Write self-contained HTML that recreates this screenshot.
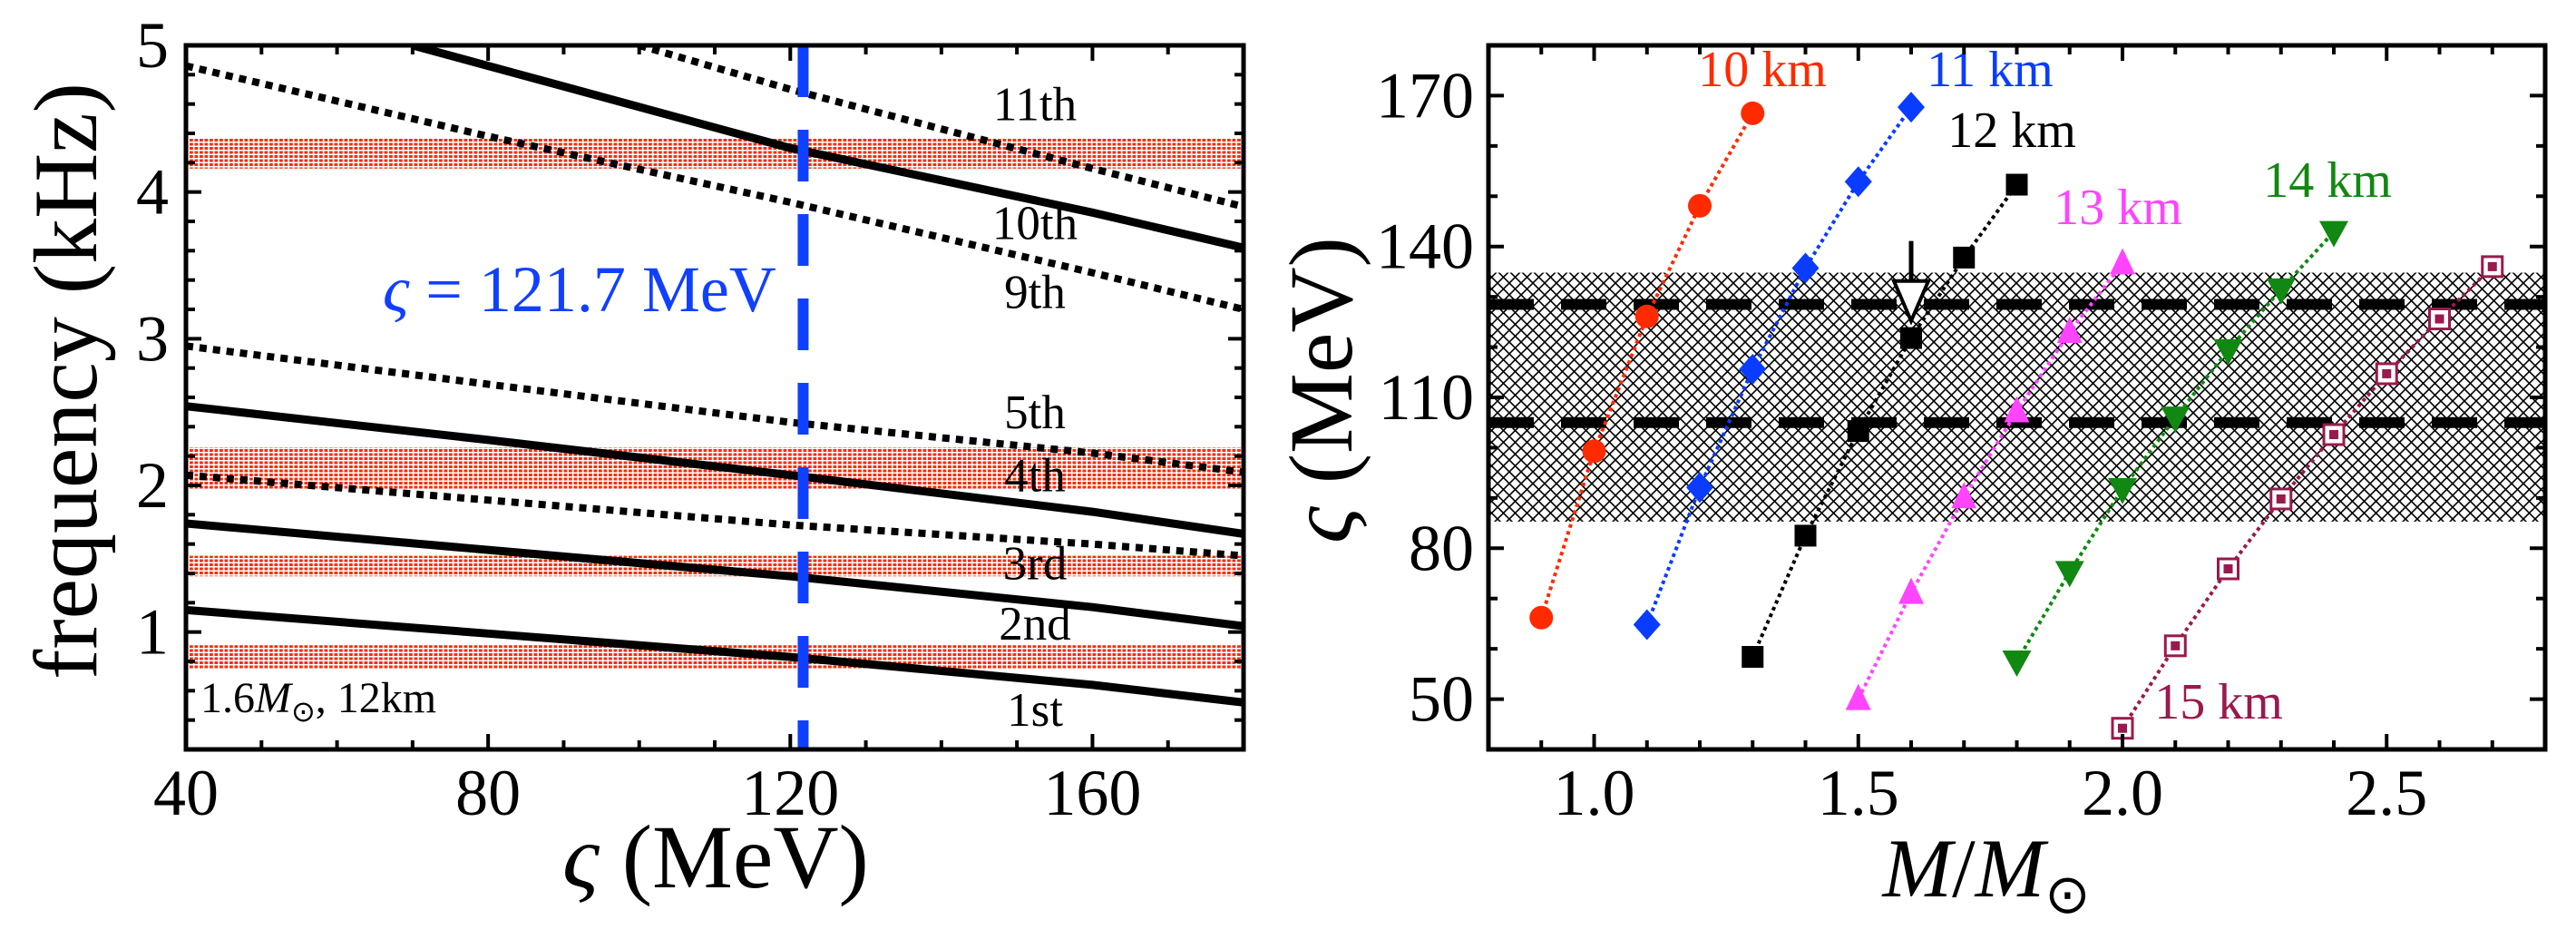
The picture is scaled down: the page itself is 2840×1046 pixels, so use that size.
<!DOCTYPE html>
<html><head><meta charset="utf-8"><style>
html,body{margin:0;padding:0;background:#fff}
svg{display:block}
text{font-family:"Liberation Serif",serif}
</style></head><body>
<svg id="fig" width="2840" height="1046" viewBox="0 0 2840 1046" xmlns="http://www.w3.org/2000/svg">
<defs>
<pattern id="reddots" width="5.5" height="4.5" patternUnits="userSpaceOnUse"><rect x="0" y="0" width="3.8" height="3" fill="#ff2a00"/></pattern>
<pattern id="hatch" width="13" height="13" patternUnits="userSpaceOnUse"><path d="M0,0 L13,13 M13,0 L0,13" stroke="#000" stroke-width="1.6"/></pattern>
</defs>
<g id="left"></g>
<g id="right"></g>
</svg>
<script>
// ---------- Left panel data ----------
const zetaGrid = [40, 80, 120, 160, 180];
const mode1 = [1.15, 0.99, 0.83, 0.64, 0.52];
const mode2 = [1.74, 1.56, 1.38, 1.17, 1.04];
const mode3 = [2.07, 1.90, 1.73, 1.60, 1.52];
const mode4 = [2.54, 2.31, 2.07, 1.82, 1.67];
const mode5 = [2.95, 2.69, 2.43, 2.22, 2.09];
const mode9 = [4.86, 4.38, 3.93, 3.45, 3.20];
const mode10Zeta = [70, 80, 120, 160, 180];
const mode10 = [5.0, 4.86, 4.30, 3.86, 3.62];
const mode11Zeta = [100, 120, 160, 180];
const mode11 = [5.0, 4.70, 4.16, 3.90];
const bandLow = [0.75, 1.38, 1.97, 4.16];
const bandHigh = [0.91, 1.52, 2.26, 4.37];
const modeLabels = ["11th","10th","9th","5th","4th","3rd","2nd","1st"];
const modeLabelFreq = [4.49, 3.68, 3.21, 2.39, 1.96, 1.36, 0.95, 0.36];
const zetaMark = 121.7;
const leftXTicks = [40, 80, 120, 160];
const leftYTicks = [1, 2, 3, 4, 5];

// ---------- Right panel data ----------
const mass10 = [0.9, 1.0, 1.1, 1.2, 1.3];
const zeta10 = [66.2, 99.3, 126.1, 148.1, 166.5];
const mass11 = [1.1, 1.2, 1.3, 1.4, 1.5, 1.6];
const zeta11 = [64.8, 92.1, 115.6, 135.7, 152.9, 167.7];
const mass12 = [1.3, 1.4, 1.5, 1.6, 1.7, 1.8];
const zeta12 = [58.4, 82.5, 103.3, 121.8, 137.8, 152.3];
const mass13 = [1.5, 1.6, 1.7, 1.8, 1.9, 2.0];
const zeta13 = [50.0, 71.1, 90.1, 107.2, 123.0, 136.6];
const mass14 = [1.8, 1.9, 2.0, 2.1, 2.2, 2.3, 2.4];
const zeta14 = [57.5, 75.3, 91.8, 106.0, 119.4, 131.5, 142.9];
const mass15 = [2.0, 2.1, 2.2, 2.3, 2.4, 2.5, 2.6, 2.7];
const zeta15 = [44.2, 60.6, 75.9, 89.8, 102.6, 114.7, 125.6, 136.0];
const bandZeta = [85.3, 134.8];
const dashZeta = [105.0, 128.5];
const arrowMass = 1.6;
const arrowZeta = [141.1, 125.2];
const rightXTicks = [1.0, 1.5, 2.0, 2.5];
const rightYTicks = [50, 80, 110, 140, 170];

const NS = "http://www.w3.org/2000/svg";
function mk(parent, tag, attrs, txt){
  const e = document.createElementNS(NS, tag);
  for (const k in attrs) e.setAttribute(k, attrs[k]);
  if (txt !== undefined) e.textContent = txt;
  parent.appendChild(e);
  return e;
}

// ---------- Left panel ----------
const L = document.getElementById('left');
const lx0=205, lx1=1371, ly0=50, ly1=826;
const lxMin=40, lxMax=180, lyMin=0.2, lyMax=5;
const LX = z => lx0 + (z-lxMin)/(lxMax-lxMin)*(lx1-lx0);
const LY = f => ly1 - (f-lyMin)/(lyMax-lyMin)*(ly1-ly0);

const cp = mk(L,'clipPath',{id:'lclip'});
mk(cp,'rect',{x:lx0,y:ly0,width:lx1-lx0,height:ly1-ly0});

for (let i=0;i<bandLow.length;i++){
  const b = mk(L,'rect',{x:lx0,y:LY(bandHigh[i]),width:lx1-lx0,height:LY(bandLow[i])-LY(bandHigh[i]),fill:'url(#reddots)'});
  
  
}

function modeLine(xs, ys, dotted, name){
  const d = xs.map((z,i)=>(i?'L':'M')+LX(z).toFixed(1)+','+LY(ys[i]).toFixed(1)).join(' ');
  const p = mk(L,'path',{d:d,fill:'none',stroke:'#000','stroke-width':dotted?8:9,'clip-path':'url(#lclip)'});
  if (dotted) p.setAttribute('stroke-dasharray','8 7');
  
  
}
modeLine(zetaGrid, mode1, false, 'mode-1st-line');
modeLine(zetaGrid, mode2, false, 'mode-2nd-line');
modeLine(zetaGrid, mode3, true, 'mode-3rd-line');
modeLine(zetaGrid, mode4, false, 'mode-4th-line');
modeLine(zetaGrid, mode5, true, 'mode-5th-line');
modeLine(zetaGrid, mode9, true, 'mode-9th-line');
modeLine(mode10Zeta, mode10, false, 'mode-10th-line');
modeLine(mode11Zeta, mode11, true, 'mode-11th-line');

const vl = mk(L,'line',{x1:LX(zetaMark),x2:LX(zetaMark),y1:ly0,y2:ly1,stroke:'#1040ff','stroke-width':12,'stroke-dasharray':'57 36'});


const vt = mk(L,'text',{x:422,y:343,'font-size':72,fill:'#1040ff'});
vt.innerHTML = '<tspan font-style="italic">ς</tspan> = 121.7 MeV';



modeLabels.forEach((t,i)=>{
  const e = mk(L,'text',{x:1141,y:LY(modeLabelFreq[i]),'font-size':53,'text-anchor':'middle'},t);
  
  
});
const note = mk(L,'text',{x:221,y:785,'font-size':48});
note.innerHTML = '1.6<tspan font-style="italic">M</tspan><tspan font-size="32" dy="10">⊙</tspan><tspan dy="-10">, 12km</tspan>';



for (let z=50; z<180; z+=10){
  const major = leftXTicks.includes(z);
  const len = major?17:10;
  mk(L,'line',{x1:LX(z),x2:LX(z),y1:ly1,y2:ly1-len,stroke:'#000','stroke-width':4});
  mk(L,'line',{x1:LX(z),x2:LX(z),y1:ly0,y2:ly0+len,stroke:'#000','stroke-width':4});
}
for (let k=1; k<24; k++){
  const f = lyMin + k*0.2;
  const major = Math.abs(f-Math.round(f))<1e-6;
  const len = major?17:10;
  mk(L,'line',{x1:lx0,x2:lx0+len,y1:LY(f),y2:LY(f),stroke:'#000','stroke-width':4});
  mk(L,'line',{x1:lx1,x2:lx1-len,y1:LY(f),y2:LY(f),stroke:'#000','stroke-width':4});
}
leftXTicks.forEach(z=>{
  const t = mk(L,'text',{x:LX(z),y:898,'font-size':72,'text-anchor':'middle'},String(z));
  
  
});
leftYTicks.forEach(f=>{
  const t = mk(L,'text',{x:186,y:LY(f)+24,'font-size':72,'text-anchor':'end'},String(f));
  
  
});
const lf = mk(L,'rect',{x:lx0,y:ly0,width:lx1-lx0,height:ly1-ly0,fill:'none',stroke:'#000','stroke-width':5});


const lxt = mk(L,'text',{x:789,y:978,'font-size':100,'text-anchor':'middle'});
lxt.innerHTML = '<tspan font-style="italic">ς</tspan> (MeV)';


const lyt = mk(L,'text',{x:0,y:0,'font-size':100,'text-anchor':'middle',transform:'translate(106,420) rotate(-90)'},'frequency (kHz)');



// ---------- Right panel ----------
const R = document.getElementById('right');
const rx0=1641, rx1=2806, ry0=50, ry1=826;
const rxMin=0.8, rxMax=2.8, ryMin=40, ryMax=180;
const RX = m => rx0 + (m-rxMin)/(rxMax-rxMin)*(rx1-rx0);
const RY = s => ry1 - (s-ryMin)/(ryMax-ryMin)*(ry1-ry0);

const hb = mk(R,'rect',{x:rx0,y:RY(bandZeta[1]),width:rx1-rx0,height:RY(bandZeta[0])-RY(bandZeta[1]),fill:'url(#hatch)'});


dashZeta.forEach(s=>{
  const l = mk(R,'line',{x1:rx0,x2:rx1,y1:RY(s),y2:RY(s),stroke:'#000','stroke-width':12,'stroke-dasharray':'50 30'});
  
  
});

function marker(g, kind, x, y, color){
  if (kind==='circle') return mk(g,'ellipse',{cx:x,cy:y,rx:13,ry:13,fill:color});
  if (kind==='diamond') return mk(g,'path',{d:`M${x},${y-17} L${x+15},${y} L${x},${y+17} L${x-15},${y} Z`,fill:color});
  if (kind==='square') return mk(g,'rect',{x:x-12,y:y-12,width:24,height:24,fill:color});
  if (kind==='up') return mk(g,'path',{d:`M${x},${y-17} L${x+14},${y+12} L${x-14},${y+12} Z`,fill:color});
  if (kind==='down') return mk(g,'path',{d:`M${x},${y+17} L${x+16},${y-12} L${x-16},${y-12} Z`,fill:color});
  if (kind==='osq'){
    const gg = mk(g,'g',{});
    mk(gg,'rect',{x:x-11,y:y-11,width:22,height:22,fill:'#fff',stroke:color,'stroke-width':3});
    mk(gg,'rect',{x:x-5,y:y-5,width:10,height:10,fill:color});
    return gg;
  }
}
function series(ms, ss, kind, color, name){
  const g = mk(R,'g',{});
  
  
  const d = ms.map((m,i)=>(i?'L':'M')+RX(m).toFixed(1)+','+RY(ss[i]).toFixed(1)).join(' ');
  mk(g,'path',{d:d,fill:'none',stroke:color,'stroke-width':4,'stroke-dasharray':'4 4'});
  ms.forEach((m,i)=>{
    const p = marker(g, kind, RX(m), RY(ss[i]), color);
    
    
  });
}
series(mass10, zeta10, 'circle', '#ff2a00', 'series-10km');
series(mass11, zeta11, 'diamond', '#0a3cff', 'series-11km');
series(mass12, zeta12, 'square', '#000', 'series-12km');
series(mass13, zeta13, 'up', '#ff44ff', 'series-13km');
series(mass14, zeta14, 'down', '#118811', 'series-14km');
series(mass15, zeta15, 'osq', '#991a4d', 'series-15km');

const ag = mk(R,'g',{});


const ax = RX(arrowMass), ayTop = RY(arrowZeta[0]), ayTip = RY(arrowZeta[1]);
mk(ag,'line',{x1:ax,x2:ax,y1:ayTop,y2:ayTip-40,stroke:'#000','stroke-width':5});
mk(ag,'path',{d:`M${ax-19},${ayTip-44} L${ax+19},${ayTip-44} L${ax},${ayTip} Z`,fill:'#fff',stroke:'#000','stroke-width':4});

const rlabels = [["10 km",1943,95,'#ff2a00'],["11 km",2194,95,'#0a3cff'],["12 km",2218,162,'#000'],["13 km",2335,247,'#ff44ff'],["14 km",2566,217,'#118811'],["15 km",2446,792,'#991a4d']];
rlabels.forEach(a=>{
  const t = mk(R,'text',{x:a[1],y:a[2],'font-size':56,'text-anchor':'middle',fill:a[3]},a[0]);
  
  
});

for (let k=1; k<20; k++){
  const m = rxMin + k*0.1;
  const major = rightXTicks.some(v=>Math.abs(v-m)<1e-6);
  const len = major?17:10;
  mk(R,'line',{x1:RX(m),x2:RX(m),y1:ry1,y2:ry1-len,stroke:'#000','stroke-width':4});
  mk(R,'line',{x1:RX(m),x2:RX(m),y1:ry0,y2:ry0+len,stroke:'#000','stroke-width':4});
}
for (let s=50; s<180; s+=10){
  const major = rightYTicks.includes(s);
  const len = major?17:10;
  mk(R,'line',{x1:rx0,x2:rx0+len,y1:RY(s),y2:RY(s),stroke:'#000','stroke-width':4});
  mk(R,'line',{x1:rx1,x2:rx1-len,y1:RY(s),y2:RY(s),stroke:'#000','stroke-width':4});
}
rightXTicks.forEach(m=>{
  const t = mk(R,'text',{x:RX(m),y:898,'font-size':72,'text-anchor':'middle'},m.toFixed(1));
  
  
});
rightYTicks.forEach(s=>{
  const t = mk(R,'text',{x:1625,y:RY(s)+24,'font-size':72,'text-anchor':'end'},String(s));
  
  
});
const rf = mk(R,'rect',{x:rx0,y:ry0,width:rx1-rx0,height:ry1-ry0,fill:'none',stroke:'#000','stroke-width':5});


const rxt = mk(R,'text',{x:2190,y:988,'font-size':92,'text-anchor':'middle'});
rxt.innerHTML = '<tspan font-style="italic">M</tspan>/<tspan font-style="italic">M</tspan><tspan font-size="60" dy="18">⊙</tspan>';


const ryt = mk(R,'text',{x:0,y:0,'font-size':100,'text-anchor':'middle',transform:'translate(1490,430) rotate(-90)'});
ryt.innerHTML = '<tspan font-style="italic">ς</tspan> (MeV)';


</script>
</body></html>
